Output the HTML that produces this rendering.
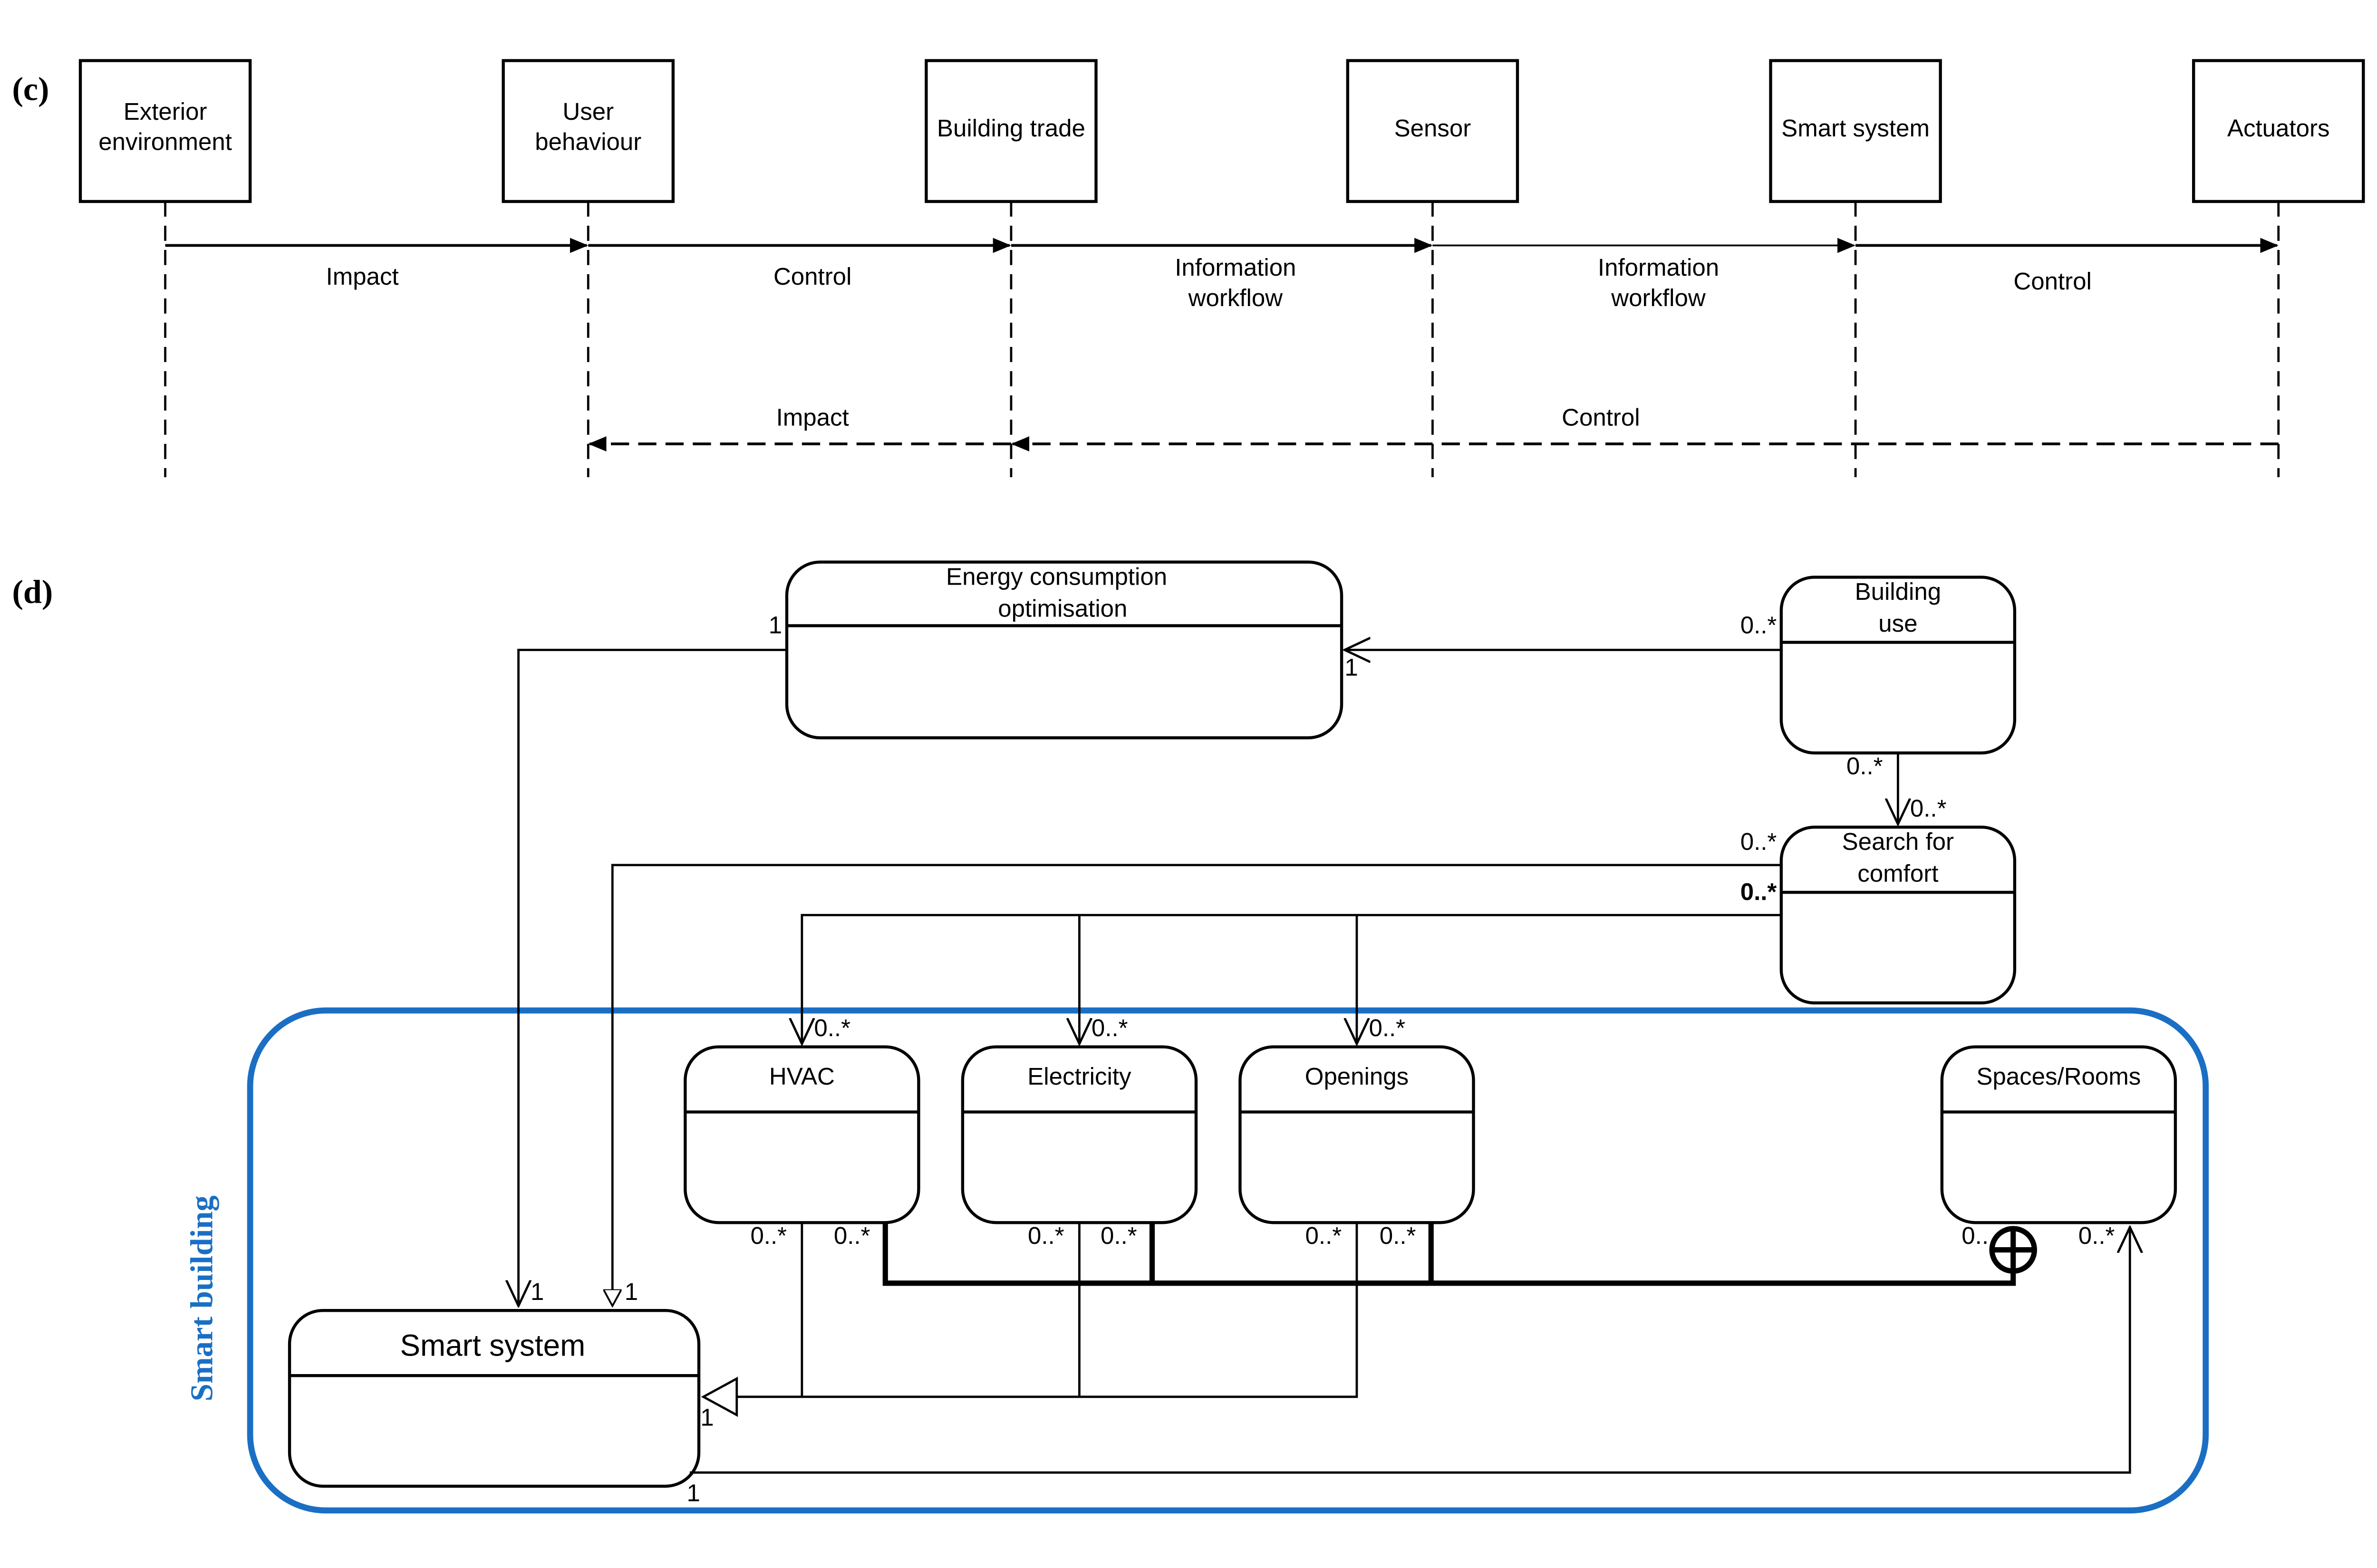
<!DOCTYPE html>
<html><head><meta charset="utf-8"><style>
html,body{margin:0;padding:0;background:#fff;overflow:hidden;width:100%;height:100%;}
svg{display:block;width:100vw;height:100vh;}
text{font-family:"Liberation Sans",sans-serif;font-size:16px;fill:#000;}
</style></head><body>
<svg viewBox="0 0 1568 1035" preserveAspectRatio="none" xmlns="http://www.w3.org/2000/svg">
<defs>
<marker id="fa" markerWidth="12" markerHeight="10" refX="11" refY="5" orient="auto" markerUnits="userSpaceOnUse"><path d="M0,0 L12,5 L0,10 z" fill="#000"/></marker>
<marker id="oa" markerWidth="18" markerHeight="18" refX="17" refY="9" orient="auto" markerUnits="userSpaceOnUse"><path d="M0,1 L17,9 L0,17" fill="none" stroke="#000" stroke-width="1.5"/></marker>
<marker id="ta" markerWidth="12" markerHeight="12" refX="11" refY="6" orient="auto" markerUnits="userSpaceOnUse"><path d="M0,0 L11,6 L0,12 z" fill="#fff" stroke="#000" stroke-width="1.2"/></marker>
</defs>
<text x="8" y="66" style="font-family:'Liberation Serif',serif;font-size:22px;font-weight:bold">(c)</text>
<text x="8" y="398" style="font-family:'Liberation Serif',serif;font-size:22px;font-weight:bold">(d)</text>
<g fill="#fff" stroke="#000" stroke-width="2">
<rect x="53" y="40" width="112" height="93"/><rect x="332" y="40" width="112" height="93"/>
<rect x="611" y="40" width="112" height="93"/><rect x="889" y="40" width="112" height="93"/>
<rect x="1168" y="40" width="112" height="93"/><rect x="1447" y="40" width="112" height="93"/>
</g>
<g text-anchor="middle">
<text x="109" y="79">Exterior</text><text x="109" y="99">environment</text>
<text x="388" y="79">User</text><text x="388" y="99">behaviour</text>
<text x="667" y="90">Building trade</text><text x="945" y="90">Sensor</text>
<text x="1224" y="90">Smart system</text><text x="1503" y="90">Actuators</text>
</g>
<g stroke="#000" stroke-width="1.5" stroke-dasharray="10,6">
<line x1="109" y1="133" x2="109" y2="315"/><line x1="388" y1="133" x2="388" y2="315"/>
<line x1="667" y1="133" x2="667" y2="315"/><line x1="945" y1="133" x2="945" y2="315"/>
<line x1="1224" y1="133" x2="1224" y2="315"/><line x1="1503" y1="133" x2="1503" y2="315"/>
</g>
<g stroke="#000" stroke-width="1.8">
<line x1="109" y1="162" x2="387" y2="162" marker-end="url(#fa)"/>
<line x1="388" y1="162" x2="666" y2="162" marker-end="url(#fa)"/>
<line x1="667" y1="162" x2="944" y2="162" marker-end="url(#fa)"/>
<line x1="945" y1="162" x2="1223" y2="162" marker-end="url(#fa)" stroke-width="1.2"/>
<line x1="1224" y1="162" x2="1502" y2="162" marker-end="url(#fa)"/>
<g stroke-dasharray="12,6">
<line x1="1503" y1="293" x2="668" y2="293" marker-end="url(#fa)"/>
<line x1="667" y1="293" x2="389" y2="293" marker-end="url(#fa)"/>
</g></g>
<g text-anchor="middle">
<text x="239" y="188">Impact</text><text x="536" y="188">Control</text>
<text x="815" y="182">Information</text><text x="815" y="202">workflow</text>
<text x="1094" y="182">Information</text><text x="1094" y="202">workflow</text>
<text x="1354" y="191">Control</text>
<text x="536" y="281">Impact</text><text x="1056" y="281">Control</text>
</g>
<rect x="165" y="667" width="1290" height="330" rx="50" fill="none" stroke="#1a6fc4" stroke-width="4"/>
<text transform="translate(140,925) rotate(-90)" style="font-family:'Liberation Serif',serif;font-size:21px;font-weight:bold;fill:#1a6fc4">Smart building</text>
<g fill="#fff" stroke="#000" stroke-width="2">
<rect x="519" y="371" width="366" height="116" rx="22"/><line x1="519" y1="413" x2="885" y2="413"/>
<rect x="1175" y="381" width="154" height="116" rx="22"/><line x1="1175" y1="424" x2="1329" y2="424"/>
<rect x="1175" y="546" width="154" height="116" rx="22"/><line x1="1175" y1="589" x2="1329" y2="589"/>
<rect x="452" y="691" width="154" height="116" rx="22"/><line x1="452" y1="734" x2="606" y2="734"/>
<rect x="635" y="691" width="154" height="116" rx="22"/><line x1="635" y1="734" x2="789" y2="734"/>
<rect x="818" y="691" width="154" height="116" rx="22"/><line x1="818" y1="734" x2="972" y2="734"/>
<rect x="1281" y="691" width="154" height="116" rx="22"/><line x1="1281" y1="734" x2="1435" y2="734"/>
<rect x="191" y="865" width="270" height="116" rx="22"/><line x1="191" y1="908" x2="461" y2="908"/>
</g>
<g text-anchor="middle">
<text x="697" y="386">Energy consumption</text><text x="701" y="407">optimisation</text>
<text x="1252" y="396">Building</text><text x="1252" y="417">use</text>
<text x="1252" y="561">Search for</text><text x="1252" y="582">comfort</text>
<text x="529" y="716">HVAC</text><text x="712" y="716">Electricity</text>
<text x="895" y="716">Openings</text><text x="1358" y="716">Spaces/Rooms</text>
<text x="325" y="895" style="font-size:20px">Smart system</text>
</g>
<g fill="none" stroke="#000" stroke-width="1.5">
<polyline points="519,429 342,429 342,862" marker-end="url(#oa)"/>
<line x1="1175" y1="429" x2="887" y2="429" marker-end="url(#oa)"/>
<line x1="1252" y1="497" x2="1252" y2="544" marker-end="url(#oa)"/>
<polyline points="1175,571 404,571 404,862" marker-end="url(#ta)"/>
<polyline points="1175,604 529,604 529,689" marker-end="url(#oa)"/>
<line x1="712" y1="604" x2="712" y2="689" marker-end="url(#oa)"/>
<line x1="895" y1="604" x2="895" y2="689" marker-end="url(#oa)"/>
<line x1="529" y1="807" x2="529" y2="922"/><line x1="712" y1="807" x2="712" y2="922"/>
<polyline points="895,807 895,922 486,922"/>
<path d="M486,910 L464,922 L486,934 z" fill="#fff"/>
<polyline points="455,972 1405,972 1405,810" marker-end="url(#oa)"/>
</g>
<g fill="none" stroke="#000" stroke-width="3.5">
<polyline points="584,807 584,847 1328,847 1328,840"/>
<line x1="760" y1="807" x2="760" y2="847"/><line x1="944" y1="807" x2="944" y2="847"/>
<circle cx="1328" cy="825" r="14" fill="#fff"/>
<line x1="1314" y1="825" x2="1342" y2="825"/><line x1="1328" y1="811" x2="1328" y2="839"/>
</g>
<g>
<text x="507" y="418">1</text><text x="1148" y="418">0..*</text><text x="887" y="446">1</text>
<text x="1218" y="511">0..*</text><text x="1260" y="539">0..*</text>
<text x="1148" y="561">0..*</text><text x="1148" y="594" style="font-weight:bold">0..*</text>
<text x="350" y="858">1</text><text x="412" y="858">1</text>
<text x="537" y="684">0..*</text><text x="720" y="684">0..*</text><text x="903" y="684">0..*</text>
<text x="495" y="821">0..*</text><text x="550" y="821">0..*</text>
<text x="678" y="821">0..*</text><text x="726" y="821">0..*</text>
<text x="861" y="821">0..*</text><text x="910" y="821">0..*</text>
<text x="1294" y="821">0..</text><text x="1371" y="821">0..*</text>
<text x="462" y="941">1</text><text x="453" y="991">1</text>
</g>
</svg>
</body></html>
